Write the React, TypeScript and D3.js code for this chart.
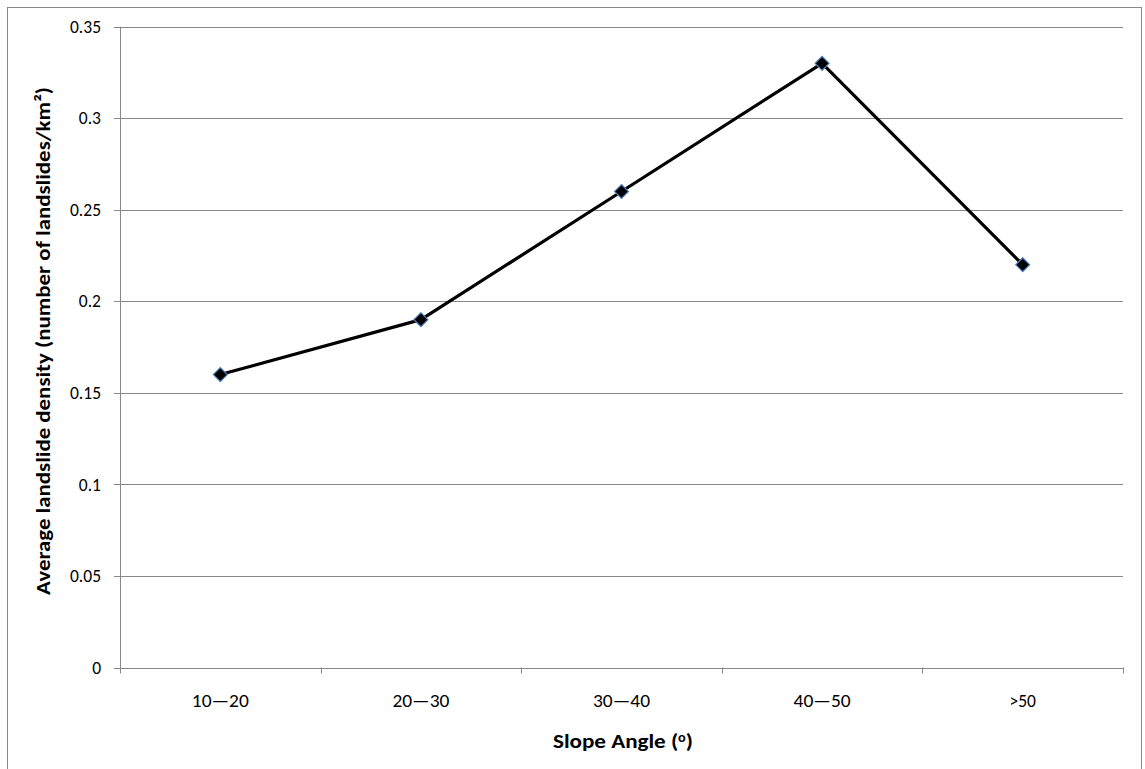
import React from "react";
import * as d3 from "d3";

const categories = ["10\u201420", "20\u201430", "30\u201440", "40\u201450", ">50"];
const densityValues = [0.16, 0.19, 0.26, 0.33, 0.22];
const yTicks = [0, 0.05, 0.1, 0.15, 0.2, 0.25, 0.3, 0.35];

const W = 1145;
const H = 769;
const left = 120;
const right = 1123;
const top = 26.7;
const bottom = 667.5;
const font = "Carlito, Calibri, Lato, 'Open Sans', sans-serif";
const gridColor = "#888888";

export default function App() {
  const x = d3.scaleBand<string>().domain(categories).range([left, right]).padding(0);
  const y = d3.scaleLinear().domain([0, 0.35]).range([bottom, top]);
  const line = d3
    .line<number>()
    .x((_, i) => (x(categories[i]) as number) + x.bandwidth() / 2)
    .y((d) => y(d));
  const boundaries = [...categories.map((c) => x(c) as number), right];
  const ds = 7;

  return (
    <svg width={W} height={H} style={{ position: "absolute", left: 0, top: 0, background: "#fff" }}>
      <rect x={7.5} y={7.5} width={1134} height={770} fill="#fff" stroke={gridColor} strokeWidth={1} />
      {yTicks.map((t) => (
        <g key={t}>
          <line x1={left - 6} x2={right} y1={Math.round(y(t)) + 0.5} y2={Math.round(y(t)) + 0.5} stroke={gridColor} strokeWidth={1} />
          <text x={101} y={y(t)} dy="0.35em" textAnchor="end" fontFamily={font} fontSize={17.5} fill="#000">
            {t === 0 ? "0" : String(+t.toFixed(2))}
          </text>
        </g>
      ))}
      <line x1={left + 0.5} x2={left + 0.5} y1={top} y2={bottom + 5} stroke={gridColor} strokeWidth={1} />
      {boundaries.map((b, i) => (
        <line key={i} x1={Math.round(b) + 0.5} x2={Math.round(b) + 0.5} y1={bottom} y2={bottom + 6} stroke={gridColor} strokeWidth={1} />
      ))}
      {categories.map((c) => (
        <text
          key={c}
          x={(x(c) as number) + x.bandwidth() / 2}
          y={701}
          dy="0.35em"
          textAnchor="middle"
          fontFamily={font}
          fontSize={17.5}
          fill="#000"
          textLength={c.length > 3 ? 57 : undefined}
          lengthAdjust="spacingAndGlyphs"
        >
          {c}
        </text>
      ))}
      <path d={line(densityValues) || ""} fill="none" stroke="#000" strokeWidth={3.2} strokeLinejoin="round" />
      {densityValues.map((v, i) => {
        const cx = (x(categories[i]) as number) + x.bandwidth() / 2;
        const cy = y(v);
        return (
          <path
            key={i}
            d={`M${cx},${cy - ds}L${cx + ds},${cy}L${cx},${cy + ds}L${cx - ds},${cy}Z`}
            fill="#000"
            stroke="#4f81bd"
            strokeWidth={1.2}
          />
        );
      })}
      <text
        x={623}
        y={741}
        dy="0.35em"
        textAnchor="middle"
        fontFamily={font}
        fontSize={21}
        fontWeight="bold"
        fill="#000"
        textLength={140}
        lengthAdjust="spacingAndGlyphs"
      >
        Slope Angle (
        <tspan fontSize={13} dy={-6}>o</tspan>
        <tspan dy={6}>)</tspan>
      </text>
      <text
        transform={`translate(43, 341) rotate(-90)`}
        textAnchor="middle"
        dy="0.35em"
        fontFamily={font}
        fontSize={20}
        fontWeight="bold"
        fill="#000"
        textLength={508}
        lengthAdjust="spacingAndGlyphs"
      >
        Average landslide density (number of landslides/km²)
      </text>
    </svg>
  );
}
